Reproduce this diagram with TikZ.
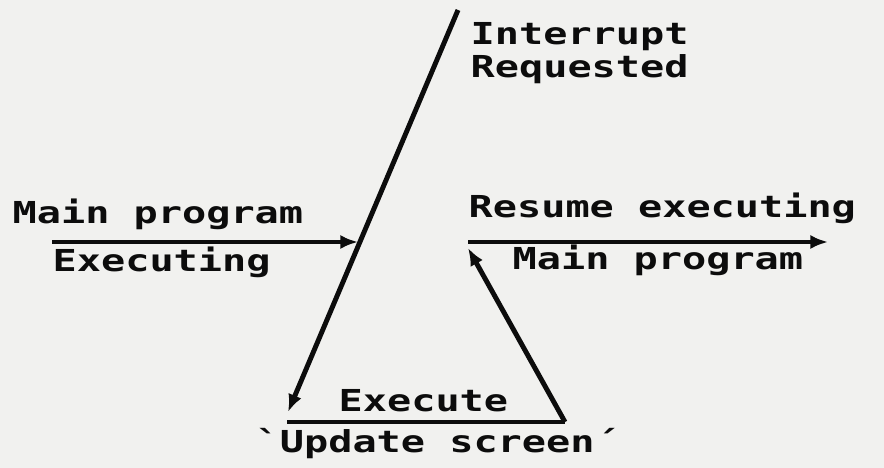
\documentclass[tikz,border=0pt]{standalone}
\usepackage{fontspec}
\usepackage{xcolor}
\usepackage{tikz}
\usetikzlibrary{arrows.meta,positioning,calc}
\newfontfamily\crtfont[FakeStretch=1.33]{DejaVu Sans Mono}
\definecolor{PaperGray}{RGB}{241,241,239}
\definecolor{InkBlack}{RGB}{12,12,12}

\begin{document}
\begin{tikzpicture}[
    % ── Styles ──
    flow/.style  = {-{Latex[length=5pt,width=4pt]}, line width=1.4pt, draw=InkBlack},
    rule/.style  = {line width=1.4pt, draw=InkBlack},
    lbl/.style   = {inner sep=0pt, anchor=base west, text=InkBlack,
                    font=\crtfont\bfseries\fontsize{8.6}{9.4}\selectfont, align=left},
]

% ── paper
\fill[PaperGray] (0,0) rectangle (8.84,4.68);
\useasboundingbox (0,0) rectangle (8.84,4.68);

% =====================================================================
%  END POINTS
% =====================================================================
\coordinate (irq)    at (4.58,4.58);
\coordinate (isr)    at (2.88,0.56);
\coordinate (isrend) at (2.87,0.46);
\coordinate (ret)    at (5.65,0.46);
\coordinate (resin)  at (4.68,2.20);
\coordinate (mainA)  at (0.52,2.26);
\coordinate (mainB)  at (3.58,2.26);
\coordinate (resA)   at (4.68,2.26);
\coordinate (resB)   at (8.28,2.26);

% =====================================================================
%  CONNECTORS
% =====================================================================
\draw[flow] (mainA) -- (mainB);
\draw[flow] (irq)   -- (isr);
\draw[rule] (isrend) -- (ret);
\draw[flow] (ret)   -- (resin);
\draw[flow] (resA)  -- (resB);

% =====================================================================
%  LABELS
% =====================================================================
\node[lbl] (irqlbl)  at (4.70,3.90) {Interrupt\\Requested};
\node[lbl] (mainlbl) at (0.12,2.44) {Main program};
\node[lbl] (execlbl) at (0.52,1.96) {Executing};
\node[lbl] (reslbl)  at (4.68,2.50) {Resume executing};
\node[lbl] (mainlbl2) at (5.12,1.98) {Main program};
\node[lbl] (isrlbl)  at (3.38,0.56) {Execute};
\node[lbl] (updlbl)  at (2.55,0.15) {`Update screen´};

\end{tikzpicture}
\end{document}
